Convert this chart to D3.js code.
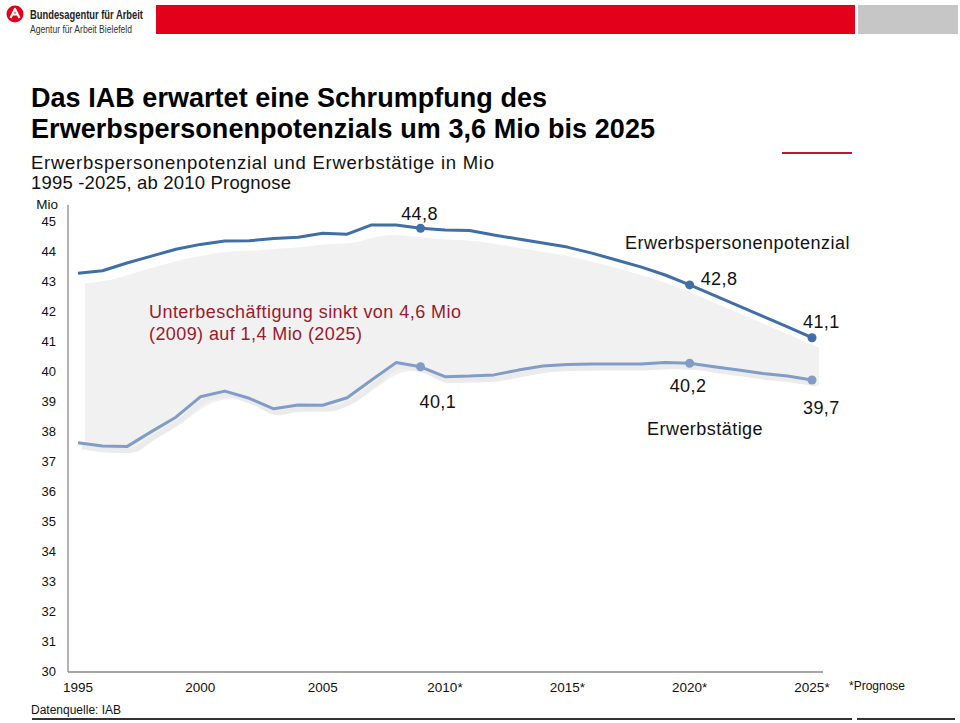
<!DOCTYPE html>
<html>
<head>
<meta charset="utf-8">
<script src="https://cdn.jsdelivr.net/npm/d3@7"></script>
<style>
  html, body { margin: 0; padding: 0; background: #fff; }
  svg { display: block; font-family: "Liberation Sans", Arial, sans-serif; }
</style>
</head>
<body>
<svg id="chart" width="960" height="723"></svg>
<script>
// ---- Data ----
const years = d3.range(1995, 2026);
const potenzial = [43.26, 43.34, 43.60, 43.83, 44.06, 44.22, 44.33, 44.34, 44.42, 44.46,
                   44.59, 44.56, 44.87, 44.87, 44.76, 44.70, 44.68, 44.53, 44.40, 44.27,
                   44.13, 43.93, 43.70, 43.47, 43.20, 42.87, 42.52, 42.17, 41.82, 41.47, 41.11];
const erwerbstaetige = [37.61, 37.50, 37.48, 37.98, 38.46, 39.14, 39.33, 39.09, 38.74, 38.87,
                        38.86, 39.11, 39.70, 40.28, 40.14, 39.81, 39.83, 39.87, 40.03, 40.17,
                        40.22, 40.23, 40.23, 40.23, 40.28, 40.26, 40.14, 40.03, 39.92, 39.83, 39.70];
const yTicks = d3.range(30, 46);
const xTickYears = [1995, 2000, 2005, 2010, 2015, 2020, 2025];
const xTickLabels = ["1995", "2000", "2005", "2010*", "2015*", "2020*", "2025*"];
const potMarkers = [{year: 2009, label: "44,8"}, {year: 2020, label: "42,8"}, {year: 2025, label: "41,1"}];
const etMarkers = [{year: 2009, label: "40,1"}, {year: 2020, label: "40,2"}, {year: 2025, label: "39,7"}];

// ---- Setup ----
const svg = d3.select("#chart");
const x = d3.scaleLinear().domain([1995, 2025]).range([78, 812]);
const y = d3.scaleLinear().domain([30, 45]).range([671, 221]);

// ---- Header ----
const logo = svg.append("g").attr("transform", "translate(15,14)");
logo.append("circle").attr("r", 8.5).attr("fill", "#e2001a");
logo.append("path").attr("d", "M-4.5,4 L0,-5 L4.5,4 M-2.3,0.5 L2.3,0.5")
  .attr("fill", "none").attr("stroke", "#fff").attr("stroke-width", 2.2).attr("stroke-linejoin", "round");
svg.append("text").attr("x", 30).attr("y", 19).attr("font-size", 13).attr("font-weight", "bold")
  .attr("fill", "#222").attr("textLength", 113).attr("lengthAdjust", "spacingAndGlyphs")
  .text("Bundesagentur für Arbeit");
svg.append("text").attr("x", 30).attr("y", 33).attr("font-size", 11.5)
  .attr("fill", "#333").attr("textLength", 102).attr("lengthAdjust", "spacingAndGlyphs")
  .text("Agentur für Arbeit Bielefeld");
svg.append("rect").attr("x", 156).attr("y", 5).attr("width", 699).attr("height", 29).attr("fill", "#e2001a");
svg.append("rect").attr("x", 858).attr("y", 5).attr("width", 100).attr("height", 29).attr("fill", "#c6c6c6");

// ---- Titles ----
svg.append("text").attr("x", 31).attr("y", 107).attr("font-size", 27).attr("font-weight", "bold")
  .attr("fill", "#000").attr("textLength", 516).text("Das IAB erwartet eine Schrumpfung des");
svg.append("text").attr("x", 31).attr("y", 138).attr("font-size", 27).attr("font-weight", "bold")
  .attr("fill", "#000").attr("textLength", 624).text("Erwerbspersonenpotenzials um 3,6 Mio bis 2025");
svg.append("text").attr("x", 31).attr("y", 169).attr("font-size", 18.5)
  .attr("fill", "#111").attr("textLength", 463).text("Erwerbspersonenpotenzial und Erwerbstätige in Mio");
svg.append("text").attr("x", 31).attr("y", 189).attr("font-size", 18.5)
  .attr("fill", "#111").attr("textLength", 260).text("1995 -2025, ab 2010 Prognose");
svg.append("line").attr("x1", 782).attr("x2", 852).attr("y1", 153).attr("y2", 153)
  .attr("stroke", "#c0182e").attr("stroke-width", 2);

// ---- Shaded band ----
const bandData = years.map((yr, i) => ({yr, top: potenzial[i], bot: erwerbstaetige[i]}));
const band = d3.area()
  .x(d => x(d.yr))
  .y0(d => y(d.bot) + 6)
  .y1(d => y(d.top) + 10)
  .curve(d3.curveBasis);
svg.append("path").datum(bandData).attr("d", band)
  .attr("transform", "translate(7,0)").attr("fill", "#f1f1f1");
// soft shadow just below the lower line
const shadowLine = d3.line().x(d => x(d.yr)).y(d => y(d.bot) + 4).curve(d3.curveMonotoneX);
svg.append("path").datum(bandData).attr("d", shadowLine).attr("transform", "translate(4,0)")
  .attr("fill", "none").attr("stroke", "#ebebeb").attr("stroke-width", 5);

// ---- Axes ----
svg.append("line").attr("x1", 68).attr("x2", 68).attr("y1", 205).attr("y2", 672)
  .attr("stroke", "#999").attr("stroke-width", 1.5);
svg.append("line").attr("x1", 68).attr("x2", 823).attr("y1", 672).attr("y2", 672)
  .attr("stroke", "#888").attr("stroke-width", 1.5);

svg.append("g").selectAll("text").data(yTicks).join("text")
  .attr("x", 56).attr("y", d => y(d) + 5).attr("text-anchor", "end")
  .attr("font-size", 13).attr("fill", "#111").text(d => d);
svg.append("text").attr("x", 58).attr("y", 209).attr("text-anchor", "end")
  .attr("font-size", 13.5).attr("fill", "#111").text("Mio");

svg.append("g").selectAll("text").data(xTickYears).join("text")
  .attr("x", d => x(d)).attr("y", 692).attr("text-anchor", "middle")
  .attr("font-size", 13.5).attr("fill", "#111").text((d, i) => xTickLabels[i]);
svg.append("text").attr("x", 849).attr("y", 690).attr("font-size", 12)
  .attr("fill", "#111").text("*Prognose");

// ---- Lines ----
const lineGen = d3.line().x((d, i) => x(years[i])).y(d => y(d));
svg.append("path").datum(potenzial).attr("d", lineGen)
  .attr("fill", "none").attr("stroke", "#3f6fa6").attr("stroke-width", 3).attr("stroke-linejoin", "round");
svg.append("path").datum(erwerbstaetige).attr("d", lineGen)
  .attr("fill", "none").attr("stroke", "#819cc6").attr("stroke-width", 3).attr("stroke-linejoin", "round");

svg.append("g").selectAll("circle").data(potMarkers).join("circle")
  .attr("cx", d => x(d.year)).attr("cy", d => y(potenzial[d.year - 1995])).attr("r", 4.5).attr("fill", "#3f6fa6");
svg.append("g").selectAll("circle").data(etMarkers).join("circle")
  .attr("cx", d => x(d.year)).attr("cy", d => y(erwerbstaetige[d.year - 1995])).attr("r", 4.5).attr("fill", "#819cc6");

// ---- Value labels ----
const lab = (t, xx, yy, anchor) => svg.append("text").attr("x", xx).attr("y", yy)
  .attr("text-anchor", anchor || "start").attr("font-size", 18).attr("letter-spacing", 0.4)
  .attr("fill", "#111").text(t);
lab(potMarkers[0].label, x(2009) - 1, 220, "middle");
lab(potMarkers[1].label, x(2020) + 11, 285);
lab(potMarkers[2].label, x(2025) - 9, 328);
lab(etMarkers[0].label, x(2009) - 1, 408);
lab(etMarkers[1].label, x(2020) - 20, 392);
lab(etMarkers[2].label, x(2025) - 9, 414);
lab("Erwerbspersonenpotenzial", 625, 249).attr("textLength", 225);
lab("Erwerbstätige", 647, 435).attr("textLength", 116);

// ---- Annotation ----
svg.append("text").attr("x", 149).attr("y", 318).attr("font-size", 18).attr("fill", "#9a1a2e")
  .attr("textLength", 312).text("Unterbeschäftigung sinkt von 4,6 Mio");
svg.append("text").attr("x", 149).attr("y", 340).attr("font-size", 18).attr("fill", "#9a1a2e")
  .attr("textLength", 213).text("(2009) auf 1,4 Mio (2025)");

// ---- Footer ----
svg.append("text").attr("x", 31).attr("y", 714).attr("font-size", 12).attr("fill", "#111").text("Datenquelle: IAB");
svg.append("rect").attr("x", 32).attr("y", 718).attr("width", 820).attr("height", 2).attr("fill", "#333");
svg.append("rect").attr("x", 857).attr("y", 718).attr("width", 98).attr("height", 2).attr("fill", "#333");
</script>
</body>
</html>
